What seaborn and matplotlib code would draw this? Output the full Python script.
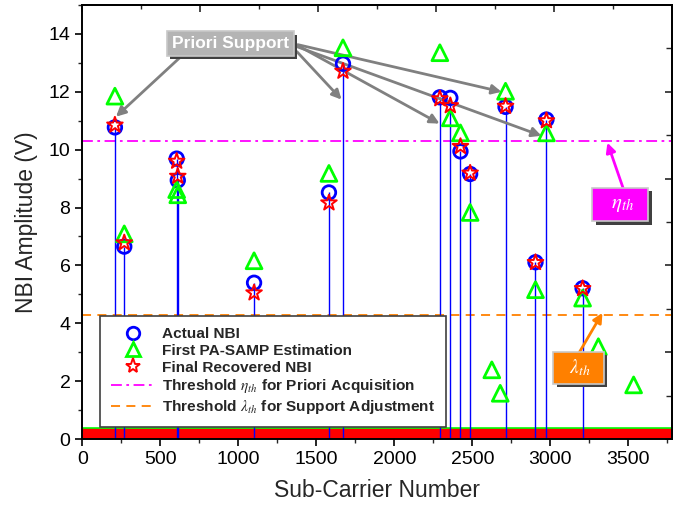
import numpy as np
import matplotlib
matplotlib.use("Agg")
import matplotlib.pyplot as plt
import seaborn as sns
from matplotlib.lines import Line2D
from matplotlib.ticker import MultipleLocator
import matplotlib.patheffects as pe

# ---------------- data ----------------
support_idx = [209, 269, 605, 612, 1101, 1581, 1671, 2292, 2359, 2424, 2486, 2713, 2905, 2975, 3207]
actual_nbi = [10.77, 6.65, 9.69, 8.94, 5.40, 8.52, 12.97, 11.81, 11.79, 9.94, 9.16, 11.48, 6.11, 11.04, 5.21]
recovered_nbi = [10.85, 6.78, 9.60, 9.08, 5.05, 8.16, 12.71, 11.76, 11.52, 10.11, 9.19, 11.50, 6.10, 11.00, 5.20]
first_est_idx = [209, 269, 605, 612, 1101, 1581, 1671, 2292, 2359, 2424, 2486, 2713, 2905, 2975, 3207,
                 2625, 2679, 3308, 3534]
first_est_val = [11.85, 7.09, 8.62, 8.44, 6.16, 9.18, 13.52, 13.35, 11.10, 10.58, 7.83, 12.02, 5.16, 10.58, 4.87,
                 2.39, 1.58, 3.19, 1.87]
n_subcarriers = 3780
zero_band_level = 0.37
eta_th = 10.3
lambda_th = 4.3
x_ticks = [0, 500, 1000, 1500, 2000, 2500, 3000, 3500]
y_ticks = [0, 2, 4, 6, 8, 10, 12, 14]

# ---------------- style ----------------
sns.set_theme(style="ticks")
plt.rcParams['font.family'] = ['Liberation Sans', 'DejaVu Sans']
plt.rcParams['mathtext.fontset'] = 'stix'

fig = plt.figure(figsize=(6.83, 5.15), dpi=100)
ax = fig.add_axes([82.3 / 683, 1 - 439 / 515, (672 - 82.3) / 683, (439 - 5) / 515])

BLUE = '#0000ff'
GREEN = '#00ff00'
RED = '#ff0000'
MAGENTA = '#ff00ff'
ORANGE = '#ff8000'

# zero-amplitude band (all other sub-carriers)
ax.fill_between([0, n_subcarriers], 0, zero_band_level, color=RED, lw=0, zorder=2)
ax.plot([0, n_subcarriers], [zero_band_level, zero_band_level], color=GREEN, lw=1.2, zorder=2)

# stems
ax.vlines(support_idx, 0, actual_nbi, color=BLUE, lw=1.0, zorder=3)

# thresholds
ax.axhline(eta_th, color=MAGENTA, lw=1.3, ls=(0, (6, 2.5, 1.5, 2.5)), zorder=2)
ax.axhline(lambda_th, color=ORANGE, lw=1.3, ls=(0, (5, 3.5)), zorder=2)

# markers
sns.scatterplot(x=support_idx, y=actual_nbi, ax=ax, marker='o', s=95, linewidth=2.0, zorder=5)
c = ax.collections[-1]
c.set_facecolor('none'); c.set_edgecolor(BLUE)
sns.scatterplot(x=first_est_idx, y=first_est_val, ax=ax, marker='^', s=130, linewidth=2.0, zorder=6)
c = ax.collections[-1]
c.set_facecolor('none'); c.set_edgecolor(GREEN)
sns.scatterplot(x=support_idx, y=recovered_nbi, ax=ax, marker='*', s=140, linewidth=1.4, zorder=7)
c = ax.collections[-1]
c.set_facecolor('none'); c.set_edgecolor(RED)

# axes
ax.set_xlim(0, n_subcarriers)
ax.set_ylim(0, 15)
ax.set_xticks(x_ticks)
ax.set_yticks(y_ticks)
ax.xaxis.set_minor_locator(MultipleLocator(250))
ax.yaxis.set_minor_locator(MultipleLocator(1))
ax.tick_params(axis='both', which='major', direction='out', length=5, width=1.2, labelsize=14, colors='black')
ax.tick_params(axis='both', which='minor', direction='out', length=3, width=1.0)
ax.set_xlabel('Sub-Carrier Number', fontsize=16.5, labelpad=8)
ax.set_ylabel('NBI Amplitude (V)', fontsize=16.5, labelpad=8)
for s in ax.spines.values():
    s.set_linewidth(1.4)
    s.set_color('black')
    s.set_visible(True)
    s.set_zorder(10)

# opposite axes ticks (inward)
top = ax.secondary_xaxis('top')
top.set_xticks(np.arange(0, n_subcarriers + 1, 756))
top.xaxis.set_minor_locator(MultipleLocator(378))
top.tick_params(which='major', direction='in', length=5, width=1.2, labeltop=False)
top.tick_params(which='minor', direction='in', length=3, width=1.0)
right = ax.secondary_yaxis('right')
right.set_yticks(np.arange(0, 15.1, 3))
right.yaxis.set_minor_locator(MultipleLocator(1.5))
right.tick_params(which='major', direction='in', length=5, width=1.2, labelright=False)
right.tick_params(which='minor', direction='in', length=4, width=1.0)

# legend
handles = [
    Line2D([], [], ls='none', marker='o', ms=9, mfc='none', mec=BLUE, mew=2.0),
    Line2D([], [], ls='none', marker='^', ms=10, mfc='none', mec=GREEN, mew=2.0),
    Line2D([], [], ls='none', marker='*', ms=11, mfc='none', mec=RED, mew=1.4),
    Line2D([], [], color=MAGENTA, lw=1.3, ls=(0, (6, 2.5, 1.5, 2.5))),
    Line2D([], [], color=ORANGE, lw=1.3, ls=(0, (5, 3.5))),
]
labels = ['Actual NBI', 'First PA-SAMP Estimation', 'Final Recovered NBI',
          r'Threshold $\eta_{th}$ for Priori Acquisition',
          r'Threshold $\lambda_{th}$ for Support Adjustment']
leg = ax.legend(handles, labels, loc='lower left', bbox_to_anchor=(0.03, 0.028),
                prop={'weight': 'bold', 'size': 11.1}, frameon=True, fancybox=False,
                framealpha=1, edgecolor='#404040', handlelength=2.9, handletextpad=0.4,
                labelspacing=0.18, borderpad=0.7, borderaxespad=0)
leg.get_frame().set_linewidth(1.2)
leg.set_zorder(8)

# annotation: Priori Support
arrow_gray = dict(arrowstyle='-|>', color='#808080', lw=2.0, mutation_scale=14, shrinkA=0, shrinkB=0)
ax.annotate('', xy=(216, 11.14), xytext=(639, 13.25), arrowprops=arrow_gray, zorder=4)
ax.annotate('', xy=(1662, 11.73), xytext=(1375, 13.39), arrowprops=arrow_gray, zorder=4)
ax.annotate('', xy=(2290, 10.90), xytext=(1381, 13.60), arrowprops=arrow_gray, zorder=4)
ax.annotate('', xy=(2687, 12.00), xytext=(1381, 13.63), arrowprops=arrow_gray, zorder=4)
ax.annotate('', xy=(2943, 10.48), xytext=(1381, 13.55), arrowprops=arrow_gray, zorder=4)


def shadow_box(x, y, text, fc, fs, pad, weight='normal'):
    t = ax.text(x, y, text, ha='center', va='center', fontsize=fs, color='white', weight=weight,
                bbox=dict(boxstyle=f'square,pad={pad}', fc=fc, ec='#c8c8c8', lw=1.2), zorder=12)
    t.get_bbox_patch().set_path_effects([
        pe.SimplePatchShadow(offset=(2.5, -2.5), shadow_rgbFace='#404040', alpha=1.0),
        pe.Normal()])
    return t


shadow_box(949, 13.67, 'Priori Support', '#b4b4b4', 12.5, 0.28, weight='bold')

# eta box
ax.annotate('', xy=(3366, 10.24), xytext=(3468, 8.65),
            arrowprops=dict(arrowstyle='-|>', color=MAGENTA, lw=2.0, mutation_scale=14, shrinkA=0, shrinkB=0),
            zorder=4)
shadow_box(3449, 8.10, '  $\\eta_{th}$  ', MAGENTA, 15, 0.35)

# lambda box
ax.annotate('', xy=(3334, 4.36), xytext=(3180, 2.94),
            arrowprops=dict(arrowstyle='-|>', color=ORANGE, lw=2.0, mutation_scale=14, shrinkA=0, shrinkB=0),
            zorder=4)
shadow_box(3180, 2.46, '  $\\lambda_{th}$  ', ORANGE, 14, 0.3)

fig.savefig('out.png', dpi=100)
